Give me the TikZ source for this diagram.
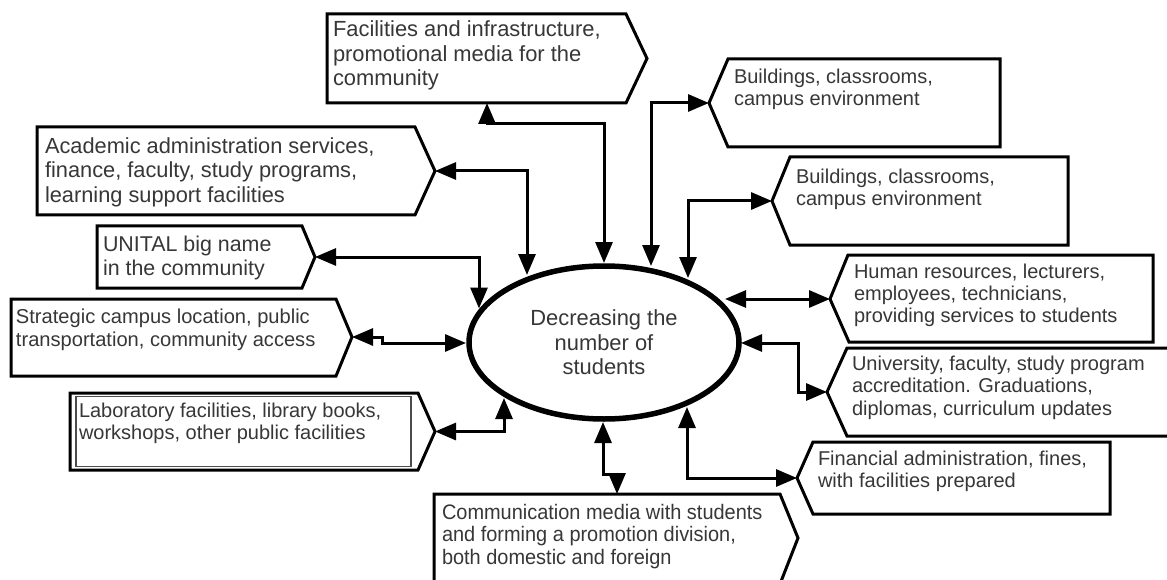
\documentclass[tikz,border=0pt]{standalone}
\usepackage{fontspec}
\setmainfont{Liberation Sans}
\newfontfamily\narrowsans[FakeStretch=0.95]{Liberation Sans}
\usetikzlibrary{arrows.meta,shapes.geometric}
\definecolor{txtgray}{RGB}{55,55,55}
\begin{document}
\begin{tikzpicture}[x=1pt,y=-1pt,
  box/.style={draw=black, line width=3pt, line join=miter, fill=white},
  innerline/.style={draw=black!70, line width=1.3pt},
  conn/.style={draw=black, line width=3pt, {Triangle[length=21pt,width=17pt]}-{Triangle[length=21pt,width=17pt]}},
  lbl/.style={anchor=north west, inner sep=0pt, outer sep=0pt, align=left, text=txtgray},
  fbig/.style={font=\fontsize{21.8pt}{24.8pt}\selectfont},
  fsmall/.style={font=\fontsize{20pt}{22.5pt}\selectfont}
]
\clip (0,0) rectangle (1167,580);
\fill[white] (0,0) rectangle (1167,580);

% ---------- left / top boxes ----------
\draw[box] (327,14) -- (626,14) -- (647,58.5) -- (626,103) -- (327,103) -- cycle;
\node[lbl, font=\fontsize{21.9pt}{24.5pt}\selectfont] (tF) at (333,21) {Facilities and infrastructure,\\promotional media for the\\community};
\coordinate (Fb) at (487,103);

\draw[box] (37,127) -- (415,127) -- (435,171) -- (415,215) -- (37,215) -- cycle;
\node[lbl, fbig] (tA) at (45,137.3) {Academic administration services,\\finance, faculty, study programs,\\learning support facilities};
\coordinate (Atip) at (435,171);

\draw[box] (97,226) -- (302,226) -- (315,257) -- (302,288) -- (97,288) -- cycle;
\node[lbl, font=\fontsize{21.4pt}{24pt}\selectfont] (tU) at (103,235.6) {UNITAL big name\\in the community};
\coordinate (Utip) at (315,257);

\draw[box] (11,299) -- (336,299) -- (352,337) -- (336,376) -- (11,376) -- cycle;
\node[lbl, font=\fontsize{20.1pt}{23pt}\selectfont] (tS) at (16,308.5) {Strategic campus location, public\\transportation, community access};
\coordinate (Stip) at (352,337);

\draw[box] (70,393) -- (418,393) -- (435,431.5) -- (418,470) -- (70,470) -- cycle;
\draw[innerline] (76,396.5) rectangle (411,466.5);
\node[lbl, fsmall] (tL) at (79,402.6) {Laboratory facilities, library books,\\workshops, other public facilities};
\coordinate (Ltip) at (435,431.5);

\draw[box] (434,584) -- (434,494) -- (780,494) -- (798,538) -- (780,584);
\node[lbl, font=\narrowsans\fontsize{21pt}{22.5pt}\selectfont] (tC) at (442,504) {Communication media with students\\and forming a promotion division,\\both domestic and foreign};
\coordinate (Ctop) at (617,494);

% ---------- right boxes ----------
\draw[box] (709,103) -- (728,59) -- (1000,59) -- (1000,147) -- (728,147) -- cycle;
\node[lbl, font=\fontsize{20pt}{21.8pt}\selectfont] (tB1) at (734,69) {Buildings, classrooms,\\campus environment};
\coordinate (B1tip) at (709,103);

\draw[box] (772,201) -- (790,157) -- (1068,157) -- (1068,245) -- (790,245) -- cycle;
\node[lbl, font=\fontsize{20pt}{22pt}\selectfont] (tB2) at (796,168.6) {Buildings, classrooms,\\campus environment};
\coordinate (B2tip) at (772,201);

\draw[box] (830,299) -- (848,255) -- (1153,255) -- (1153,342) -- (849,342) -- cycle;
\node[lbl, font=\fontsize{20pt}{22pt}\selectfont] (tHu) at (854,263.6) {Human resources, lecturers,\\employees, technicians,\\providing services to students};
\coordinate (Hutip) at (830,299);

\draw[box] (827,392) -- (847,348) -- (1180,348) -- (1180,436) -- (847,436) -- cycle;
\node[lbl, fsmall] (tUn) at (852,355.6) {University, faculty, study program\\accreditation. Graduations,\\diplomas, curriculum updates};
\coordinate (Untip) at (827,392);

\draw[box] (797,478) -- (813,442) -- (1110,442) -- (1110,514) -- (813,514) -- cycle;
\node[lbl, fsmall] (tFi) at (818,450.6) {Financial administration, fines,\\with facilities prepared};
\coordinate (Fitip) at (797,478);

% ---------- central ellipse ----------
\node[draw=black, ellipse, line width=5.5pt, minimum width=270pt, minimum height=153pt,
      inner sep=0pt, align=center, text=txtgray,
      font=\fontsize{21.9pt}{24.5pt}\selectfont] (el) at (604,342.5)
      {Decreasing the\\number of\\students};

\coordinate (eF)  at (604,263);
\coordinate (eA)  at (527,275);
\coordinate (eU)  at (479,308.5);
\coordinate (eS)  at (466,343);
\coordinate (eL)  at (504,398);
\coordinate (eC)  at (603,422);
\coordinate (eFi) at (687,407);
\coordinate (eUn) at (741,343);
\coordinate (eHu) at (725,299);
\coordinate (eB2) at (688,278);
\coordinate (eB1) at (651,266);

% ---------- connectors ----------
\draw[conn] (Fb) -- ++(0,21) -| (eF);
\draw[conn] (Atip) -| (eA);
\draw[conn] (Utip) -| (eU);
\draw[conn] (Stip) -- ++(30,0) |- (eS);
\draw[conn] (Ltip) -| (eL);
\draw[conn] (eC) -- ++(0,52) -| (Ctop);
\draw[conn] (eFi) |- (Fitip);
\draw[conn] (eUn) -- ++(57,0) |- (Untip);
\draw[conn] (eHu) -- (Hutip);
\draw[conn] (eB2) |- (B2tip);
\draw[conn] (eB1) |- (B1tip);
\end{tikzpicture}
\end{document}
